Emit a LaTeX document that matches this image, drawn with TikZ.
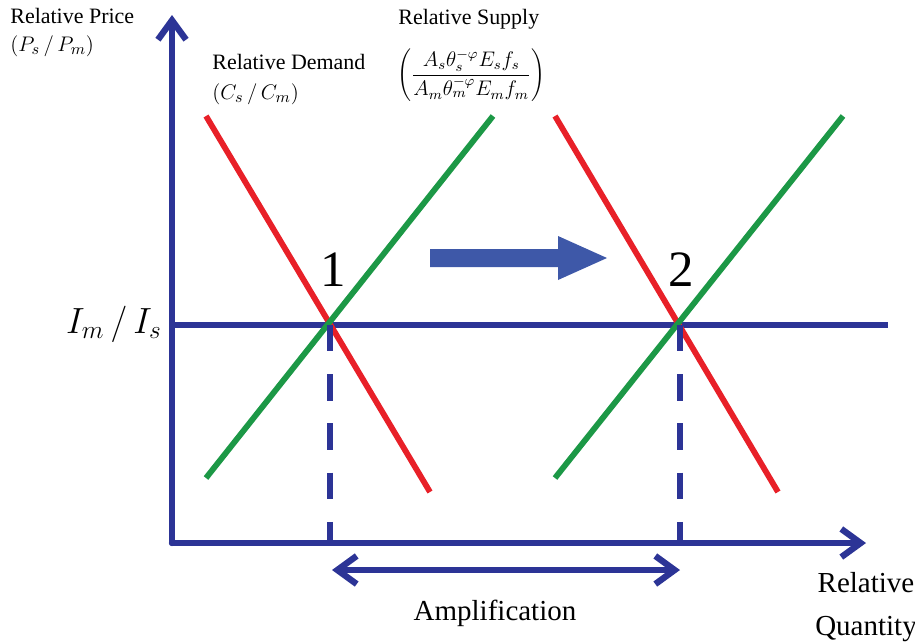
\documentclass[tikz,border=0pt]{standalone}
\usepackage{fontspec}
\setmainfont{Liberation Serif}
\usetikzlibrary{arrows.meta}

\definecolor{axisblue}{RGB}{44,52,150}
\definecolor{shiftblue}{RGB}{62,88,168}
\definecolor{demandred}{RGB}{232,32,40}
\definecolor{supplygreen}{RGB}{28,152,70}

\tikzset{
    barb/.tip={Straight Barb[length=11pt,width=16pt,line width=3.6pt]},
    axis/.style={line width=3.6pt,axisblue,line cap=round,-barb},
    level/.style={line width=3.6pt,axisblue},
    demand/.style={line width=3.3pt,demandred},
    supply/.style={line width=3.3pt,supplygreen},
    guide/.style={line width=3.8pt,axisblue,dash pattern=on 15pt off 13pt},
    lbl/.style={inner sep=0pt,font=\fontsize{12.5}{15}\selectfont},
    biglbl/.style={inner sep=0pt,font=\fontsize{16.5}{24}\selectfont}
}

\begin{document}
\begin{tikzpicture}[x=0.02cm,y=-0.02cm]
        \useasboundingbox (0,0) rectangle (915,643);

        %%%%%%%% Axes %%%%%%%%
        \coordinate (O) at (172,543);
        \coordinate (ytop) at (172,15);
        \coordinate (xend) at (866,543);
        \draw[axis] (O) -- (ytop);
        \draw[axis] (O) -- (xend);

        %%%%%%%% Level I_m/I_s %%%%%%%%
        \coordinate (lvlL) at (170,325);
        \coordinate (lvlR) at (888,325);
        \draw[level] (lvlL) -- (lvlR);

        %%%%%%%% Curves 1 %%%%%%%%
        \coordinate (d1a) at (206,116);
        \coordinate (d1b) at (430,492);
        \coordinate (s1a) at (206,478);
        \coordinate (s1b) at (493,116);
        \draw[demand] (d1a) -- (d1b);
        \draw[supply] (s1a) -- (s1b);

        %%%%%%%% Curves 2 %%%%%%%%
        \coordinate (d2a) at (555,116);
        \coordinate (d2b) at (778,492);
        \coordinate (s2a) at (555,478);
        \coordinate (s2b) at (843,116);
        \draw[demand] (d2a) -- (d2b);
        \draw[supply] (s2a) -- (s2b);

        %%%%%%%% Guides %%%%%%%%
        \coordinate (e1) at (330,325);
        \coordinate (e2) at (680,325);
        \coordinate (q1) at (330,543);
        \coordinate (q2) at (680,543);
        \draw[guide] (e1) -- (q1);
        \draw[guide] (e2) -- (q2);

        %%%%%%%% Amplification %%%%%%%%
        \coordinate (a1) at (332,570);
        \coordinate (a2) at (680,570);
        \draw[line width=3.6pt,axisblue,line cap=round,barb-barb] (a1) -- (a2);

        %%%%%%%% Shift arrow %%%%%%%%
        \fill[shiftblue] (430,249) -- (558,249) -- (558,236) -- (607,258)
            -- (558,280) -- (558,267) -- (430,267) -- cycle;

        %%%%%%%% Labels %%%%%%%%
        \node[inner sep=0pt,font=\fontsize{29}{30}\selectfont] (n1) at (333,270) {1};
        \node[inner sep=0pt,font=\fontsize{29}{30}\selectfont] (n2) at (681,270) {2};
        \node[inner sep=0pt,anchor=east,font=\fontsize{21}{24}\selectfont] (lvl) at (162,324) {$I_m\,/\,I_s$};

        \node[lbl,anchor=west] (price) at (10,16) {Relative Price};
        \node[lbl,anchor=west] (pratio) at (10,46) {$(P_s\,/\,P_m)$};
        \node[lbl,anchor=west] (demand) at (212,62) {Relative Demand};
        \node[lbl,anchor=west] (cratio) at (212,94) {$(C_s\,/\,C_m)$};
        \node[lbl,anchor=west] (supply) at (398,19) {Relative Supply};
        \node[inner sep=0pt,anchor=west,font=\fontsize{11.5}{14}\selectfont] (sratio) at (397,75)
            {$\left(\displaystyle\frac{A_s\theta_s^{-\varphi}E_sf_s}{A_m\theta_m^{-\varphi}E_mf_m}\right)$};

        \node[biglbl] (amp) at (495,613) {Amplification};
        \node[biglbl,align=center] (quant) at (866,607) {Relative\\Quantity};
    \end{tikzpicture}
\end{document}
